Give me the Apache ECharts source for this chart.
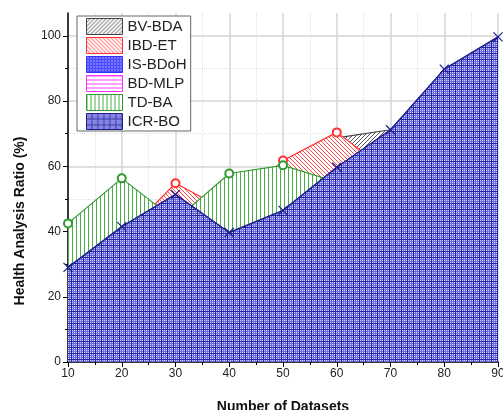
<!DOCTYPE html>
<html><head><meta charset="utf-8">
<script src="https://cdn.jsdelivr.net/npm/echarts@6/dist/echarts.min.js"></script>
<style>html,body{margin:0;padding:0;background:#fff}#c{width:503px;height:410px}</style>
</head><body><div id="c"></div>
<script>
const datasets = [10, 20, 30, 40, 50, 60, 70, 80, 90];
const seriesNames = ['BV-BDA', 'IBD-ET', 'IS-BDoH', 'BD-MLP', 'TD-BA', 'ICR-BO'];
const bvBda  = [20, 35, 45, 40, 52, 68.7, 71.2, 80, 90];
const ibdEt  = [24, 38, 54.8, 46, 61.8, 70.4, 58, 70, 80];
const isBdoh = [22, 33, 42, 36, 44, 55, 65, 82, 92];
const bdMlp  = [25, 38, 48, 37, 43, 57, 68, 85, 95];
const tdBa   = [42.5, 56.3, 43.5, 57.8, 60.3, 55.2, 63, 78, 88];
const icrBo  = [29, 41.5, 51.4, 39.7, 46.5, 59.7, 71.2, 89.8, 99.7];
const yTicks = [0, 20, 40, 60, 80, 100];

function tile(w, h, bg, draw) {
  const c = document.createElement('canvas');
  c.width = w; c.height = h;
  const g = c.getContext('2d');
  g.fillStyle = bg; g.fillRect(0, 0, w, h);
  draw(g);
  return { image: c, repeat: 'repeat' };
}
const patBlack = tile(4, 4, '#fff', g => {
  g.strokeStyle = '#555'; g.lineWidth = 1;
  g.beginPath(); g.moveTo(-1, 5); g.lineTo(5, -1); g.stroke();
  g.beginPath(); g.moveTo(-1, 1); g.lineTo(1, -1); g.stroke();
  g.beginPath(); g.moveTo(3, 5); g.lineTo(5, 3); g.stroke();
});
const patRed = tile(4, 4, '#fff', g => {
  g.strokeStyle = '#ff4a4a'; g.lineWidth = 1;
  g.beginPath(); g.moveTo(-1, -1); g.lineTo(5, 5); g.stroke();
  g.beginPath(); g.moveTo(3, -1); g.lineTo(5, 1); g.stroke();
  g.beginPath(); g.moveTo(-1, 3); g.lineTo(1, 5); g.stroke();
});
const patBlue = tile(3, 3, '#4a4aff', g => {
  g.fillStyle = '#fff'; g.fillRect(1, 1, 1, 1);
});
const patMag = tile(4, 4, '#fff', g => {
  g.fillStyle = '#ff44ff'; g.fillRect(0, 0, 4, 1);
});
const patGreen = tile(4, 4, '#fff', g => {
  g.fillStyle = '#4aae4a'; g.fillRect(0, 0, 1, 4);
});
const patNavy = tile(6, 6, '#d0d0f6', g => {
  g.fillStyle = '#6c6cdc';
  for (let i = 1; i < 6; i += 2) { g.fillRect(i, 0, 1, 6); g.fillRect(0, i, 6, 1); }
  g.fillStyle = '#2424a8';
  g.fillRect(5, 0, 1, 6); g.fillRect(0, 5, 6, 1);
});

const values = [bvBda, ibdEt, isBdoh, bdMlp, tdBa, icrBo];
const lineColors = ['#444', '#ff3030', '#3030ff', '#ff30ff', '#2f9a2f', '#1c1c8c'];
const patterns = [patBlack, patRed, patBlue, patMag, patGreen, patNavy];
const symbols = ['emptyCircle', 'emptyCircle', 'emptyCircle', 'emptyCircle', 'emptyCircle', 'path://M0,0L10,10M0,10L10,0'];

// a marker is drawn only where the point is not buried under a later (front) series
function pointSymbol(i, k) {
  for (let j = i + 1; j < values.length; j++) {
    if (values[j][k] >= values[i][k]) return 'none';
  }
  return symbols[i];
}

const series = seriesNames.map((name, i) => ({
  name: name,
  type: 'line',
  z: 2 + i,
  data: datasets.map((x, k) => ({ value: [x, values[i][k]], symbol: pointSymbol(i, k) })),
  symbol: symbols[i],
  symbolSize: i === 5 ? 9 : 8,
  showSymbol: true,
  lineStyle: { color: lineColors[i], width: i === 5 ? 1.4 : 1.2 },
  itemStyle: { color: lineColors[i], borderColor: lineColors[i], borderWidth: 1.2 },
  areaStyle: { color: patterns[i], opacity: 1 },
  emphasis: { disabled: true }
}));

const chart = echarts.init(document.getElementById('c'), null, { renderer: 'canvas' });
chart.setOption({
  animation: false,
  backgroundColor: '#fff',
  grid: { left: 68, right: 5, top: 13, bottom: 48, containLabel: false, outerBoundsMode: 'none' },
  legend: {
    orient: 'vertical', left: 77, top: 16,
    backgroundColor: '#fff', borderColor: '#666', borderWidth: 1,
    padding: [2, 4, 1, 9], itemWidth: 36, itemHeight: 16, itemGap: 2,
    textStyle: { fontFamily: 'Liberation Sans, Arial', fontSize: 15, color: '#222' },
    data: seriesNames.map((n, i) => ({
      name: n, icon: 'rect',
      itemStyle: { color: patterns[i], borderColor: lineColors[i], borderWidth: 1 }
    }))
  },
  xAxis: {
    type: 'value', min: 10, max: 90, interval: 10,
    name: 'Number of Datasets', nameLocation: 'middle', nameGap: 38,
    nameTextStyle: { fontFamily: 'Liberation Sans, Arial', fontWeight: 'bold', fontSize: 14, color: '#111' },
    axisLine: { lineStyle: { color: '#000', width: 1.5 } },
    axisTick: { length: 5, lineStyle: { color: '#000' } },
    minorTick: { show: true, splitNumber: 2, length: 3, lineStyle: { color: '#000' } },
    axisLabel: { fontFamily: 'Liberation Sans, Arial', fontSize: 12, color: '#222', margin: 6 },
    splitLine: { show: true, lineStyle: { color: '#d4d4d4', width: 1.5 } },
    minorSplitLine: { show: true, lineStyle: { color: '#e0e0e0', type: 'dotted' } }
  },
  yAxis: {
    type: 'value', min: 0, max: 107, interval: 20,
    name: 'Health Analysis Ratio (%)', nameLocation: 'middle', nameGap: 41,
    nameTextStyle: { fontFamily: 'Liberation Sans, Arial', fontWeight: 'bold', fontSize: 14, color: '#111', padding: [0, 67, 0, 0] },
    axisLine: { show: true, lineStyle: { color: '#000', width: 1.5 } },
    axisTick: { show: true, length: 5, lineStyle: { color: '#000' }, customValues: yTicks },
    minorTick: { show: true, splitNumber: 2, length: 3, lineStyle: { color: '#000' } },
    axisLabel: { fontFamily: 'Liberation Sans, Arial', fontSize: 12, color: '#222', margin: 7, customValues: yTicks },
    splitLine: { show: true, lineStyle: { color: '#d4d4d4', width: 1.5 } },
    minorSplitLine: { show: true, lineStyle: { color: '#e0e0e0', type: 'dotted' } }
  },
  series: series
});
</script>
</body></html>
